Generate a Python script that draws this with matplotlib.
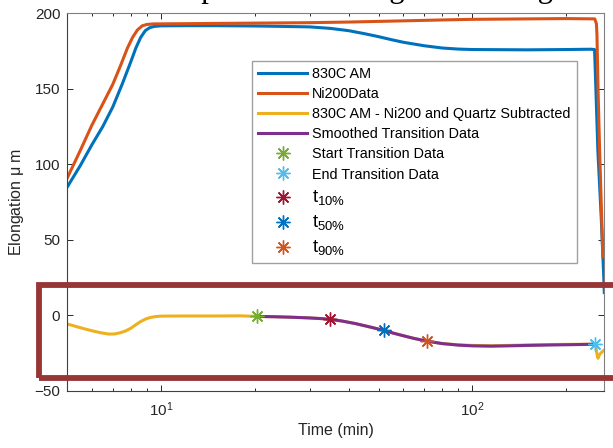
import numpy as np
import matplotlib
matplotlib.use('Agg')
import matplotlib.pyplot as plt
from matplotlib.patches import Rectangle
from matplotlib.ticker import NullFormatter

plt.rcParams['font.family'] = ['Liberation Sans', 'DejaVu Sans']
plt.rcParams['mathtext.default'] = 'regular'

# 830C AM (raw elongation)
t_am = [5, 5.5, 6, 6.5, 7, 7.5, 8, 8.3, 8.6, 8.9, 9.2, 9.5, 10, 12, 15, 20, 25, 30,
        35, 40, 45, 50, 55, 60, 70, 80, 90, 100, 150, 200, 240, 246.6, 249, 252.7,
        259, 264, 265]
y_am = [85, 99, 113, 125, 138, 153, 168, 177, 184, 188.5, 190.5, 191.3, 191.7, 191.8,
        191.8, 191.6, 191.3, 191, 190, 188.5, 186.5, 184.5, 182.5, 180.8, 178.5, 177,
        176.3, 176, 175.8, 176, 176.2, 176, 150, 109, 65, 25, 15]

# Ni200 reference
t_ni = [5, 5.5, 6, 6.5, 7, 7.4, 7.8, 8.1, 8.4, 8.7, 9, 9.5, 10, 15, 20, 30, 40, 60,
        80, 100, 150, 200, 247, 250, 251, 253, 256, 259, 262.2]
y_ni = [91, 109, 126, 140, 153, 165, 177, 184, 189, 191.7, 192.6, 193, 193, 193.3,
        193.5, 193.8, 194.2, 195, 195.6, 196, 196.3, 196.5, 196.3, 193, 186, 150, 109,
        75, 38.7]

# 830C AM - Ni200 and quartz subtracted
t_sub = [5, 5.3, 5.6, 6, 6.4, 6.8, 7.1, 7.4, 7.7, 8, 8.3, 8.6, 8.9, 9.2, 9.6, 10, 12,
         15, 18, 20.3, 23, 26, 30, 33, 35, 38, 42, 46, 50, 52, 56, 60, 65, 72, 80, 90,
         100, 115, 130, 150, 180, 210, 246.6, 249, 251, 253, 256, 260, 265]
y_sub = [-5.8, -7.3, -8.7, -10.3, -11.6, -12.5, -12.4, -11.6, -10.4, -8.6, -6.3, -4.2,
         -2.6, -1.6, -0.9, -0.6, -0.5, -0.5, -0.4, -0.8, -1.0, -1.3, -1.8, -2.3, -2.8,
         -3.8, -5.5, -7.4, -9.2, -10.1, -12, -13.6, -15.4, -17.3, -18.8, -19.6, -20.0,
         -20.2, -20.0, -19.7, -19.4, -19.3, -19.2, -20.5, -26, -28.5, -26, -24.5, -23]

# smoothed transition region
t_smooth = [20.3, 23, 26, 30, 33, 35, 38, 42, 46, 50, 52, 56, 60, 65, 72, 80, 90, 100,
            115, 130, 150, 180, 210, 246.6]
y_smooth = [-0.8, -1.0, -1.3, -1.8, -2.3, -2.8, -3.8, -5.5, -7.4, -9.2, -10.1, -12,
            -13.6, -15.4, -17.3, -18.8, -19.8, -20.3, -20.5, -20.3, -20.0, -19.7, -19.5,
            -19.2]

# transition points
pt_names = ['Start Transition Data', 'End Transition Data',
            't$_{10\\%}$', 't$_{50\\%}$', 't$_{90\\%}$']
pt_t = [20.3, 246.6, 34.9, 52, 71.4]
pt_y = [-0.8, -19.2, -2.7, -10, -17.3]
pt_colors = ['#77AC30', '#4DBEEE', '#A2142F', '#0072BD', '#D95319']

fig = plt.figure(figsize=(6.13, 4.48), dpi=100)
ax = fig.add_axes([67.3 / 613, 1 - 390.7 / 448, (604.3 - 67.3) / 613, (390.7 - 13.3) / 448])

lw = 2.2
ax.plot(t_am, y_am, color='#0072BD', lw=lw, label='830C AM')
ax.plot(t_ni, y_ni, color='#D95319', lw=lw, label='Ni200Data')
ax.plot(t_sub, y_sub, color='#EDB120', lw=lw, label='830C AM - Ni200 and Quartz Subtracted')
ax.plot(t_smooth, y_smooth, color='#7E2F8E', lw=lw, label='Smoothed Transition Data')
for name, tt, yy, c in zip(pt_names, pt_t, pt_y, pt_colors):
    ax.plot([tt], [yy], ls='none', marker=(8, 2, 0), ms=10, mew=1.0, color=c, label=name)

ax.set_xscale('log')
ax.set_xlim(5, 265)
ax.set_ylim(-50, 200)
ax.set_yticks([-50, 0, 50, 100, 150, 200])
ax.xaxis.set_minor_formatter(NullFormatter())
ax.tick_params(which='both', direction='in', top=True, right=True,
               colors='#262626', labelsize=11)
ax.tick_params(which='major', length=4, width=0.7)
ax.tick_params(which='minor', length=2, width=0.7)
ax.tick_params(axis='x', which='major', pad=7)
ax.tick_params(axis='y', pad=5)
for s in ['left', 'bottom']:
    ax.spines[s].set_color('#404040')
for s in ['top', 'right']:
    ax.spines[s].set_color('#808080')
for s in ax.spines.values():
    s.set_linewidth(0.8)

ax.set_xlabel('Time (min)', fontsize=11.5, color='#262626', labelpad=3)
ax.set_ylabel('Elongation $\\mu$ m', fontsize=11.5, color='#262626', labelpad=6)

leg = ax.legend(loc='upper left', bbox_to_anchor=(251.7 / 613, 1 - 60.7 / 448),
                bbox_transform=fig.transFigure, borderaxespad=0, fontsize=10.4,
                handlelength=3.4, handletextpad=0.35, labelspacing=0.42,
                borderpad=0.45, fancybox=False, framealpha=1, edgecolor='#a0a0a0')
leg.get_frame().set_linewidth(1.0)
# subscript rows are taller in the original
for txt in leg.get_texts()[6:]:
    txt.set_fontsize(13.5)

# cropped title at the very top
fig.text(142.5 / 613, 1 + 2.5 / 448, 'Comparison of Elongation Change',
         family='Liberation Serif', fontsize=22, ha='left', va='baseline')

# highlight box around the subtracted data
box = Rectangle((39 / 613, 1 - 378 / 448), (640 - 39) / 613, (378 - 284.5) / 448,
                transform=fig.transFigure, fill=False, edgecolor='#983535',
                linewidth=4.2, clip_on=False, zorder=10)
fig.add_artist(box)

fig.savefig('out.png', dpi=100)
